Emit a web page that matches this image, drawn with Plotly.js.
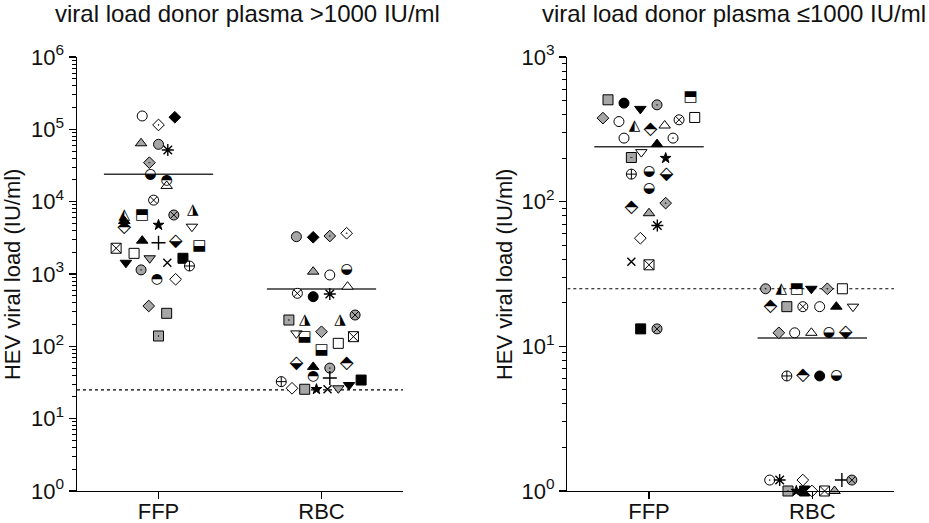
<!DOCTYPE html>
<html><head><meta charset="utf-8">
<script src="https://cdn.plot.ly/plotly-3.0.1.min.js"></script>
<style>html,body{margin:0;padding:0;background:#fff}#chart{width:929px;height:523px}</style>
</head><body><div id="chart"></div>
<script>
// ---------- DATA ----------
const categories = ['FFP', 'RBC'];
const detectionLimit = 25;

// Panel 1: viral load donor plasma >1000 IU/ml
const highTickVals = [1, 10, 100, 1000, 10000, 100000, 1000000];
const highTickText = ['10<sup>0</sup>','10<sup>1</sup>','10<sup>2</sup>','10<sup>3</sup>','10<sup>4</sup>','10<sup>5</sup>','10<sup>6</sup>'];
const highMedians = [24000, 620];

const highFFPValues = [153000,115000,147000,64100,62100,51800,34600,24100,19900,16500,10500,
  6540,5410,4330,6540,4760,6540,7500,4510,2890,2710,2800,2390,2270,1930,1430,1650,1430,1650,1290,
  1140,845,845,361,286,139];
const highFFPJitter = [-0.10,0.00,0.10,-0.107,0.00,0.057,-0.056,-0.05,0.05,0.05,-0.03,
  -0.21,-0.21,-0.21,-0.10,0.00,0.094,0.21,0.205,-0.10,0.00,0.105,0.25,-0.26,-0.15,-0.20,-0.054,0.054,0.15,0.19,
  -0.107,-0.01,0.105,-0.06,0.05,0.00];
const highFFPMarks = ['circle-open','diamond-dot-open','diamond-black','tri-gray','circle-gray','asterisk','diamond-dot-gray','hc-bot','hc-top','tri-open','circle-x-open',
  'ht-left','tri-black','hd-top','hs-top','star','circle-x-gray','ht-right','tridn-open','tri-black','plus','hd-bot','hs-bot','square-x-open','square-open','tridn-black','tridn-gray','x','square-black','circle-cross-open',
  'circle-dot-gray','hc-top','diamond-open','diamond-gray','square-gray','square-dot-gray'];

const highRBCValues = [3280,3220,3350,3660,1077,969,1137,668,541,486,529,
  231,226,226,271,151,133,159,136,110,89,58,52,38,50,36.5,58,32.5,26.3,25.5,25.5,25.5,26.3,29.2,34.2];
const highRBCJitter = [-0.154,-0.051,0.051,0.154,-0.051,0.051,0.154,0.16,-0.148,-0.051,0.051,
  -0.20,-0.103,0.113,0.206,-0.154,-0.103,0.00,0.196,0.103,0.00,-0.154,-0.051,-0.051,0.051,0.051,0.154,-0.247,-0.181,-0.103,-0.031,0.037,0.103,0.169,0.243];
const highRBCMarks = ['circle-gray','diamond-black','diamond-dot-gray','diamond-dot-open','tri-gray','circle-open','hc-bot','tri-open','circle-x-open','circle-black','asterisk',
  'square-dot-gray','ht-right','ht-right','circle-x-gray','tridn-open','hs-bot','diamond-gray','square-x-open','square-open','hs-bot','hd-bot','tri-black','hc-top','circle-dot-gray','plus','hd-top','circle-cross-open','diamond-open','square-gray','star','x','tridn-gray','tridn-black','square-black'];

// Panel 2: viral load donor plasma <=1000 IU/ml
const lowTickVals = [1, 10, 100, 1000];
const lowTickText = ['10<sup>0</sup>','10<sup>1</sup>','10<sup>2</sup>','10<sup>3</sup>'];
const lowMedians = [240, 11.4];

const lowFFPValues = [506,480,438,467,528,378,358,331,314,336,368,382,275,275,250,220,202,200,155,162,153,123,91.6,83.2,97.7,68.4,55.9,38.5,36.6,13.2,13.2];
const lowFFPJitter = [-0.251,-0.153,-0.053,0.049,0.255,-0.282,-0.184,-0.088,0.009,0.096,0.184,0.280,-0.153,0.147,0.049,-0.047,-0.108,0.102,-0.108,0.00,0.107,0.00,-0.108,0.00,0.102,0.051,-0.053,-0.108,0.00,-0.051,0.049];
const lowFFPMarks = ['square-gray','circle-black','tridn-black','circle-dot-gray','hs-top','diamond-gray','circle-open','ht-left','hd-top','tri-open','circle-x-open','square-open','circle-open','circle-dot-open','tri-black','tridn-open','square-dot-gray','star','circle-cross-open','hc-bot','hd-bot','hc-bot','hd-top','tri-gray','diamond-dot-gray','asterisk','diamond-open','x','square-x-open','square-black','circle-x-gray'];

const lowRBCValues = [25,25,25,25,25,25, 18.8,18.8,18.8,18.8,18.8,18.8, 12.4,12.4,12.4,12.4,12.4, 6.24,6.24,6.24,6.24, 1.19,1.19,1.19,1.19,1.19, 1,1,1,1,1,1];
const lowRBCJitter = [-0.286,-0.190,-0.094,-0.006,0.092,0.184, -0.257,-0.156,-0.058,0.045,0.147,0.249, -0.205,-0.108,-0.006,0.102,0.204, -0.156,-0.058,0.045,0.147, -0.261,-0.200,-0.058,0.181,0.242, -0.149,-0.098,-0.047,-0.002,0.075,0.136];
const lowRBCMarks = ['circle-dot-gray','ht-left','hs-top','tridn-black','diamond-dot-gray','square-open', 'hd-top','square-gray','circle-x-open','circle-open','tri-black','tridn-open', 'diamond-gray','circle-open','tri-open','hc-bot','hd-bot', 'circle-cross-open','hd-top','circle-black','hc-bot', 'circle-dot-open','asterisk','diamond-open','plus','circle-x-gray', 'square-dot-gray','star','square-black','diamond-open','square-x-open','tri-gray'];

// ---------- STYLE ----------
const GRAY = '#a6a6a6';
const FONT = 'Liberation Sans, Arial, Helvetica, sans-serif';
const markStyles = {
  'circle-open': ['circle','white'], 'circle-gray': ['circle',GRAY], 'circle-black': ['circle','black'],
  'square-open': ['square','white'], 'square-gray': ['square',GRAY], 'square-black': ['square','black'],
  'diamond-open': ['diamond','white'], 'diamond-gray': ['diamond',GRAY], 'diamond-black': ['diamond','black'],
  'tri-open': ['triangle-up','white'], 'tri-gray': ['triangle-up',GRAY], 'tri-black': ['triangle-up','black'],
  'tridn-open': ['triangle-down','white'], 'tridn-gray': ['triangle-down',GRAY], 'tridn-black': ['triangle-down','black'],
  'circle-dot-open': ['circle-dot','white'], 'circle-dot-gray': ['circle-dot',GRAY],
  'square-dot-gray': ['square-dot',GRAY],
  'diamond-dot-open': ['diamond-dot','white'], 'diamond-dot-gray': ['diamond-dot',GRAY],
  'circle-x-open': ['circle-x','white'], 'circle-x-gray': ['circle-x',GRAY],
  'square-x-open': ['square-x','white'], 'circle-cross-open': ['circle-cross','white'],
  'star': ['star','black'], 'asterisk': ['asterisk','black'], 'plus': ['cross-thin','black'], 'x': ['x-thin','black']
};
const markSizes = {'diamond':9,'diamond-dot':9,'star':8,'x-thin':8,'triangle-up':10,'triangle-down':10};
const lineSymbols = ['asterisk','cross-thin','x-thin'];
const glyphs = {'hc-top':'\u25D3','hc-bot':'\u25D2','hs-top':'\u2B12','hs-bot':'\u2B13','hd-top':'\u2B18','hd-bot':'\u2B19','ht-left':'\u25ED','ht-right':'\u25EE'};
const glyphSizes = {'hc-top':14,'hc-bot':14,'hs-top':15,'hs-bot':15,'hd-top':18,'hd-bot':18,'ht-left':15,'ht-right':15};

function groupTraces(values, jitter, marks, cat, xa, ya) {
  const mx=[], my=[], sym=[], col=[], lw=[], sz=[];
  const gx=[], gy=[], gt=[], gs=[];
  values.forEach((v,i)=>{
    const x = cat + jitter[i];
    const m = marks[i];
    if (glyphs[m]) { gx.push(x); gy.push(v); gt.push(glyphs[m]); gs.push(glyphSizes[m]); return; }
    const st = markStyles[m];
    mx.push(x); my.push(v); sym.push(st[0]); col.push(st[1]);
    lw.push(lineSymbols.includes(st[0]) ? 1.4 : 1);
    sz.push(markSizes[st[0]] || 10);
  });
  return [
    {type:'scatter', mode:'markers', x:mx, y:my, xaxis:xa, yaxis:ya, cliponaxis:false, hoverinfo:'y',
     marker:{symbol:sym, color:col, size:sz, opacity:1, line:{color:'black', width:lw}}},
    {type:'scatter', mode:'text', x:gx, y:gy, text:gt, xaxis:xa, yaxis:ya, cliponaxis:false, hoverinfo:'y',
     textposition:'middle center', textfont:{family:'DejaVu Sans', size:gs, color:'black'}}
  ];
}
function medianTrace(med, cat, xa, ya) {
  return {type:'scatter', mode:'lines', x:[cat-0.335, cat+0.335], y:[med, med], xaxis:xa, yaxis:ya,
          line:{color:'#333', width:1.5}, hoverinfo:'skip'};
}
function limitTrace(xa, ya) {
  return {type:'scatter', mode:'lines', x:[-0.5, 1.5], y:[detectionLimit, detectionLimit], xaxis:xa, yaxis:ya,
          line:{color:'black', width:1.2, dash:'dot'}, hoverinfo:'skip', cliponaxis:false};
}
function minorVals(decades) {
  const out=[]; for (let k=0;k<decades;k++) for (let m=2;m<=9;m++) out.push(m*Math.pow(10,k)); return out;
}

const data = [
  limitTrace('x','y'),
  medianTrace(highMedians[0],0,'x','y'), medianTrace(highMedians[1],1,'x','y'),
  ...groupTraces(highFFPValues, highFFPJitter, highFFPMarks, 0, 'x', 'y'),
  ...groupTraces(highRBCValues, highRBCJitter, highRBCMarks, 1, 'x', 'y'),
  limitTrace('x2','y2'),
  medianTrace(lowMedians[0],0,'x2','y2'), medianTrace(lowMedians[1],1,'x2','y2'),
  ...groupTraces(lowFFPValues, lowFFPJitter, lowFFPMarks, 0, 'x2', 'y2'),
  ...groupTraces(lowRBCValues, lowRBCJitter, lowRBCMarks, 1, 'x2', 'y2')
];

const xCommon = {range:[-0.5,1.5], tickmode:'array', tickvals:[0,1], ticktext:categories, showline:true, linecolor:'black', linewidth:1.5,
  ticks:'outside', ticklen:7, tickwidth:1.5, tickcolor:'black', showgrid:false, zeroline:false, fixedrange:true, ticklabelstandoff:-7,
  tickfont:{family:FONT, size:22, color:'#111'}};
const yCommon = {type:'log', showline:true, linecolor:'black', linewidth:1.5, ticks:'outside', ticklen:7, tickwidth:1.5, tickcolor:'black',
  showgrid:false, zeroline:false, tickfont:{family:FONT, size:22, color:'#111'}, tickmode:'array', domain:[0.0612, 0.891]};

const layout = {
  width:929, height:523, margin:{l:0,r:0,t:0,b:0}, showlegend:false, paper_bgcolor:'white', plot_bgcolor:'white',
  font:{family:FONT, color:'#111'},
  xaxis: Object.assign({}, xCommon, {domain:[0.0829,0.4338], anchor:'y'}),
  yaxis: Object.assign({}, yCommon, {range:[0,6], tickvals:highTickVals, ticktext:highTickText, anchor:'x',
    minor:{tickmode:'array', tickvals:minorVals(6), ticks:'outside', ticklen:4, tickwidth:1, tickcolor:'black', showgrid:false}}),
  xaxis2: Object.assign({}, xCommon, {domain:[0.6107,0.9623], anchor:'y2'}),
  yaxis2: Object.assign({}, yCommon, {range:[0,3], tickvals:lowTickVals, ticktext:lowTickText, anchor:'x2',
    minor:{tickmode:'array', tickvals:minorVals(3), ticks:'outside', ticklen:4, tickwidth:1, tickcolor:'black', showgrid:false}}),
  annotations:[
    {text:'viral load donor plasma >1000 IU/ml', xref:'paper', yref:'paper', x:0.2664, y:0.975, xanchor:'center', yanchor:'middle', showarrow:false, font:{family:FONT, size:24, color:'#111'}},
    {text:'viral load donor plasma \u22641000 IU/ml', xref:'paper', yref:'paper', x:0.790, y:0.975, xanchor:'center', yanchor:'middle', showarrow:false, font:{family:FONT, size:24, color:'#111'}},
    {text:'HEV viral load (IU/ml)', xref:'paper', yref:'paper', x:0.0129, y:0.476, xanchor:'center', yanchor:'middle', textangle:-90, showarrow:false, font:{family:FONT, size:22, color:'#111'}},
    {text:'HEV viral load (IU/ml)', xref:'paper', yref:'paper', x:0.5425, y:0.476, xanchor:'center', yanchor:'middle', textangle:-90, showarrow:false, font:{family:FONT, size:22, color:'#111'}}
  ]
};
Plotly.newPlot('chart', data, layout, {displayModeBar:false, staticPlot:true});
</script></body></html>
